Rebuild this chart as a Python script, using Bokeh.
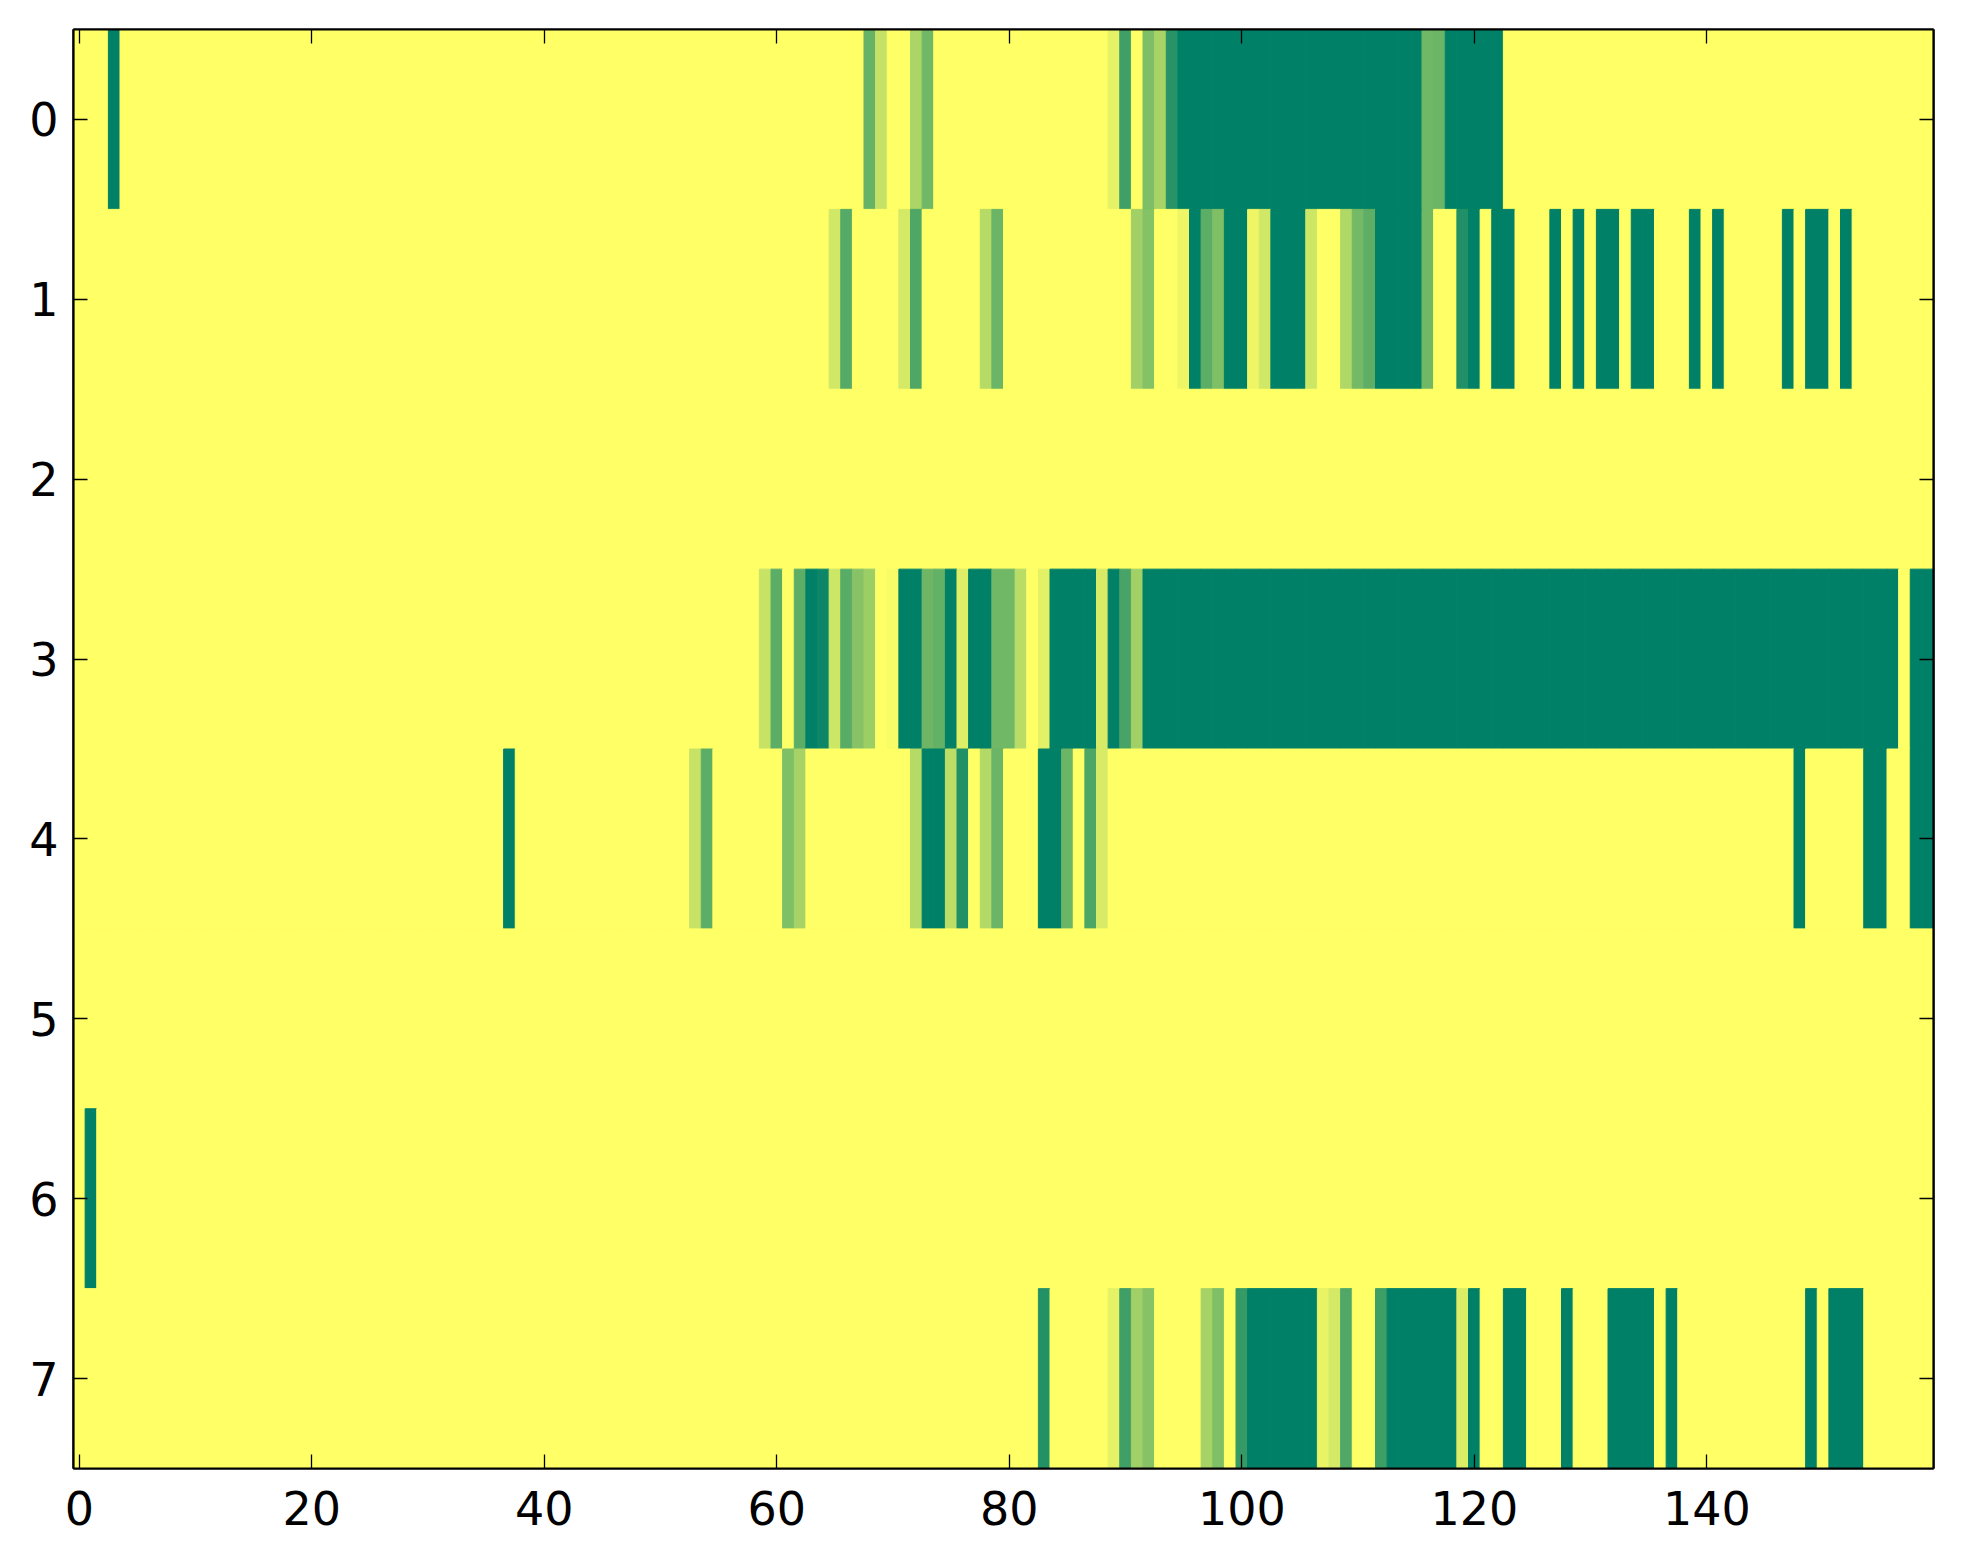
import numpy as np
from bokeh.plotting import figure
from bokeh.models import ColumnDataSource, Range1d, LinearAxis, FixedTicker, LinearColorMapper
from bokeh.embed import file_html
from bokeh.resources import INLINE

# ---------------- data ----------------
n_rows = 8
n_cols = 160
x_ticks = [0, 20, 40, 60, 80, 100, 120, 140]
y_ticks = [0, 1, 2, 3, 4, 5, 6, 7]

# non-zero cells per row as (first column, last column, value); all other cells are 0
row_0 = [(3, 3, 1.0), (68, 68, 0.60), (69, 69, 0.23), (72, 72, 0.33), (73, 73, 0.56),
         (89, 89, 0.10), (90, 90, 0.75), (92, 92, 0.51), (93, 93, 0.34), (94, 94, 0.84),
         (95, 115, 1.0), (116, 116, 0.56), (117, 117, 0.58), (118, 122, 1.0)]
row_1 = [(65, 65, 0.18), (66, 66, 0.67), (71, 71, 0.17), (72, 72, 0.69), (78, 78, 0.29),
         (79, 79, 0.58), (91, 91, 0.37), (92, 92, 0.48), (95, 95, 0.07), (96, 96, 1.0),
         (97, 97, 0.64), (98, 98, 0.50), (99, 100, 1.0), (101, 101, 0.07), (102, 102, 0.18),
         (103, 105, 1.0), (106, 106, 0.20), (109, 109, 0.31), (110, 110, 0.55), (111, 111, 0.63),
         (112, 115, 1.0), (116, 116, 0.56), (119, 119, 0.87), (120, 120, 1.0), (122, 123, 1.0),
         (127, 127, 1.0), (129, 129, 1.0), (131, 132, 1.0), (134, 135, 1.0), (139, 139, 1.0),
         (141, 141, 1.0), (147, 147, 1.0), (149, 150, 1.0), (152, 152, 1.0)]
row_2 = []
row_3 = [(59, 59, 0.22), (60, 60, 0.64), (62, 62, 0.64), (63, 63, 1.0), (64, 64, 0.95),
         (65, 65, 0.20), (66, 66, 0.65), (67, 67, 0.47), (68, 68, 0.39), (70, 70, 0.03),
         (71, 72, 1.0), (73, 73, 0.57), (74, 74, 0.61), (75, 75, 1.0), (76, 76, 0.13),
         (77, 78, 1.0), (79, 80, 0.56), (81, 81, 0.28), (83, 83, 0.11), (84, 87, 1.0),
         (88, 88, 0.16), (89, 89, 1.0), (90, 90, 0.72), (91, 91, 0.37), (92, 156, 1.0),
         (158, 159, 1.0)]
row_4 = [(37, 37, 1.0), (53, 53, 0.22), (54, 54, 0.64), (61, 61, 0.50), (62, 62, 0.35),
         (72, 72, 0.29), (73, 74, 1.0), (75, 75, 0.26), (76, 76, 0.87), (78, 78, 0.30),
         (79, 79, 0.58), (83, 84, 1.0), (85, 85, 0.58), (87, 87, 0.70), (88, 88, 0.16),
         (148, 148, 1.0), (154, 155, 1.0), (158, 159, 1.0)]
row_5 = []
row_6 = [(1, 1, 1.0)]
row_7 = [(83, 83, 0.86), (89, 89, 0.10), (90, 90, 0.75), (91, 91, 0.37), (92, 92, 0.47),
         (97, 97, 0.35), (98, 98, 0.50), (100, 100, 0.79), (101, 106, 1.0), (107, 107, 0.09),
         (108, 108, 0.17), (109, 109, 0.68), (112, 112, 0.76), (113, 118, 1.0), (119, 119, 0.14),
         (120, 120, 1.0), (123, 124, 1.0), (128, 128, 1.0), (132, 135, 1.0), (137, 137, 1.0),
         (149, 149, 1.0), (151, 153, 1.0)]

rows = [row_0, row_1, row_2, row_3, row_4, row_5, row_6, row_7]

# ---------------- build cell table ----------------
xs, ys, vs = [], [], []
for r, runs in enumerate(rows):
    vals = np.zeros(n_cols)
    for a, b, v in runs:
        vals[a:b + 1] = v
    for c in range(n_cols):
        xs.append(c)
        ys.append(r)
        vs.append(float(vals[c]))
src = ColumnDataSource(dict(x=xs, y=ys, v=vs))

# matplotlib "summer_r" colormap
def summer_r(t):
    s = 1.0 - t
    r, g, b = s, 0.5 + 0.5 * s, 0.4
    return "#%02x%02x%02x" % (int(round(r * 255)), int(round(g * 255)), int(round(b * 255)))

palette = [summer_r(i / 255) for i in range(256)]
mapper = LinearColorMapper(palette=palette, low=0, high=1)

# ---------------- figure ----------------
p = figure(width=1955, height=1548, output_backend="svg", toolbar_location=None,
           x_range=Range1d(-0.5, n_cols - 0.5), y_range=Range1d(n_rows - 0.5, -0.5),
           min_border_left=73, min_border_right=22, min_border_top=29, min_border_bottom=80)

p.rect(x="x", y="y", width=1, height=1, source=src,
       fill_color={"field": "v", "transform": mapper},
       line_color={"field": "v", "transform": mapper}, line_width=1)

p.grid.visible = False
p.outline_line_color = "black"
p.outline_line_width = 2.2

p.add_layout(LinearAxis(), "above")
p.add_layout(LinearAxis(), "right")

for ax in p.axis:
    ax.axis_line_width = 2.2
    ax.axis_line_color = "black"
    ax.major_tick_in = 14
    ax.major_tick_out = 0
    ax.minor_tick_in = 0
    ax.minor_tick_out = 0
    ax.major_tick_line_width = 1.3
    ax.major_tick_line_color = "black"
    ax.major_label_text_font = "DejaVu Sans"
    ax.major_label_text_font_size = "46px"
    ax.major_label_text_color = "black"

for ax in p.xaxis:
    ax.ticker = FixedTicker(ticks=x_ticks)
for ax in p.yaxis:
    ax.ticker = FixedTicker(ticks=y_ticks)

p.below[0].major_label_standoff = 22
p.left[0].major_label_standoff = 15

# top and right axes carry ticks only (no labels), like the frame of the reference
p.above[0].major_label_overrides = {t: "" for t in x_ticks}
p.above[0].major_label_standoff = 0
p.right[0].major_label_overrides = {t: "" for t in y_ticks}
p.right[0].major_label_standoff = 0

open("out.html", "w").write(file_html(p, INLINE))
